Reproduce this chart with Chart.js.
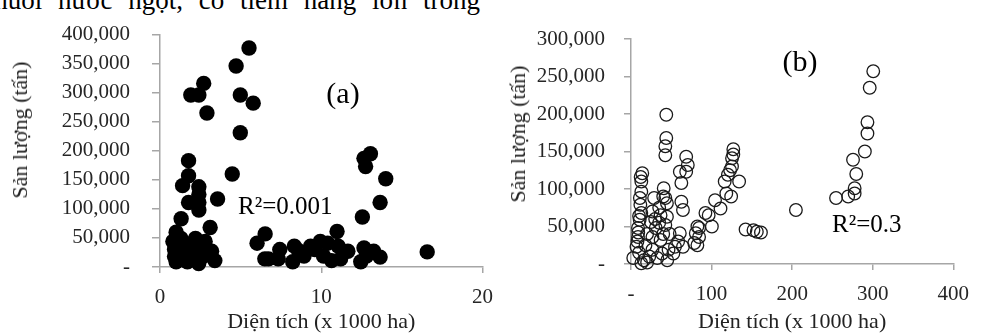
<!DOCTYPE html>
<html>
<head>
<meta charset="utf-8">
<script src="https://cdn.jsdelivr.net/npm/chart.js@4.4.1/dist/chart.umd.min.js"></script>
<style>
  body { margin: 0; background: #fff; }
  #page { position: relative; width: 981px; height: 333px; overflow: hidden; background: #fff;
          font-family: "Liberation Serif", "Times New Roman", serif; color: #000; }
  .box { position: absolute; top: 0; height: 333px; }
  .note { position: absolute; white-space: nowrap; line-height: 1; }
  .ytitle { position: absolute; white-space: nowrap; font-size: 22px; line-height: 1; color: #222;
            transform: translate(-50%, -50%) rotate(-90deg); }
</style>
</head>
<body>
<div id="page">
  <div class="note" style="right:501px; top:-13px; font-size:27px; word-spacing:9px;">nuôi nước ngọt, có tiềm năng lớn trong</div>

  <div class="box" style="left:0; width:505px;"><canvas id="chartA"></canvas></div>
  <div class="box" style="left:495px; width:486px;"><canvas id="chartB"></canvas></div>

  <div class="ytitle" style="left:20px; top:130px;">Sản lượng (tấn)</div>
  <div class="ytitle" style="left:518px; top:134px;">Sản lượng (tấn)</div>

  <div class="note" style="left:343px; top:93px; font-size:30px; transform:translate(-50%,-50%);">(a)</div>
  <div class="note" style="left:238px; top:205px; font-size:25px; transform:translateY(-50%);">R²=0.001</div>
  <div class="note" style="left:800px; top:61px; font-size:30px; transform:translate(-50%,-50%);">(b)</div>
  <div class="note" style="left:832px; top:223px; font-size:25px; transform:translateY(-50%);">R²=0.3</div>
</div>

<script>
// (a) diện tích (x 1000 ha) và sản lượng (tấn)
const areaA = [5.52, 4.72, 2.71, 1.91, 2.41, 4.98, 5.78, 2.91, 4.98,
  1.77, 4.48, 1.77, 1.4, 2.41, 2.41, 1.77, 2.41, 3.57, 2.41, 1.31, 3.11, 1.0,
  0.8, 1.3, 2.2, 0.9, 1.6, 2.5, 3.2, 1.0, 1.7, 2.4, 3.4, 2.1, 2.7, 0.9, 1.3, 1.9, 1.2, 2.8,
  6.52, 6.02, 6.5, 6.73, 7.43, 7.33, 8.33, 8.23, 8.93, 9.34, 9.94, 10.14, 10.64, 11.05,
  11.65, 12.45, 12.65, 13.25, 13.65, 10.4, 12.8, 11.2, 9.6, 8.6,
  13.05, 12.65, 12.75, 14.0, 13.65, 12.55, 10.98, 16.57];
const prodA = [377000, 346000, 316000, 296000, 296000, 296000, 282000, 265000, 231000,
  183000, 160000, 157000, 140000, 138000, 125000, 111000, 111000, 117000, 98000, 83000, 68000, 60000,
  44000, 49000, 49000, 30000, 33000, 36000, 27000, 9000, 9000, 6000, 11000, 19000, 19000, 18000, 22000, 40000, 38000, 44000,
  57000, 41000, 14000, 14000, 30000, 14000, 36000, 9000, 19000, 36000, 44000, 19000, 11000, 36000,
  27000, 9000, 33000, 27000, 17000, 41000, 19000, 14000, 30000, 28000,
  195000, 187000, 173000, 152000, 111000, 86000, 61000, 26000];

// (b)
const areaB = [300.7, 296.3, 293.5, 293.5, 290.3, 275.6, 279.6, 277.6, 277.6, 269.6, 254.5, 204.7,
  142.2, 152, 156.2, 161.3,
  127, 125.4, 125.4, 120.3, 134.2, 116.3, 124.3, 118.3, 111.1, 104.3, 96.4, 100.4, 84.5, 84.5, 82.4, 127, 123,
  43.8, 43.8, 42.6, 42.6, 68.5, 70.5, 68.5, 62.5, 62.5, 64.5, 14, 12.8, 12.8, 11.6, 12.8, 10.8, 8.7, 8.7,
  6.8, 2.8, 12.8, 40.6, 28.7, 42.6, 44.6, 26.6, 36.7, 44.6, 42.6, 24.7, 30.7, 26.6, 36.7, 26.6, 38.6,
  32.6, 22.7, 46.6, 54.6, 60.6, 58.5, 52.6, 64.5, 78.5, 80.4, 82.4, 92.4, 60.6, 12, 11, 10, 9, 8, 10,
  16, 20, 45, 40, 35, 30, 20, 18, 48, 40, 35];
const prodB = [257000, 235000, 189000, 174000, 150000, 139000, 120000, 101000, 94000, 90000, 88000, 72000,
  46000, 45000, 43000, 42000,
  153000, 141000, 130000, 119000, 110000, 110000, 90000, 94000, 74000, 85000, 65000, 50000, 48000, 36000, 25000, 146000, 125000,
  199000, 168000, 157000, 145000, 143000, 132000, 123000, 108000, 83000, 72000, 121000, 110000, 96500, 79000, 68000, 59000, 48000, 36000,
  23000, 8000, 1000, 101000, 88000, 88000, 81000, 70000, 65000, 63000, 52000, 56000, 48000, 36000, 32000, 19000, 14000,
  8000, 10000, 19000, 23000, 41000, 30000, 14000, 23000, 28000, 41000, 50000, 68000, 123000, 116000, 88000, 64000, 42000, 30000, 15000,
  5000, 2000, 5000, 90000, 75000, 60000, 40000, 25000, 40000, 40000, 55000];

const xTicksA = [0, 10, 20];
const xTicksB = [0, 100, 200, 300, 400];

function pairs(xs, ys) {
  return xs.map((x, i) => ({ x: x, y: ys[i] }));
}

const axisGray = '#a6a6a6';
const tickFont = { family: 'Liberation Serif', size: 21 };
const titleFont = { family: 'Liberation Serif', size: 22, lineHeight: 1 };

function yFmt(v) {
  return v === 0 ? '-' : v.toLocaleString('en-US');
}

function makeChart(id, pts, opt) {
  new Chart(document.getElementById(id), {
    type: 'scatter',
    data: {
      datasets: [{
        data: pts,
        pointRadius: opt.radius,
        pointHoverRadius: opt.radius,
        pointBackgroundColor: opt.fill,
        pointBorderColor: opt.stroke,
        pointBorderWidth: opt.lw,
        clip: false
      }]
    },
    options: {
      responsive: true,
      maintainAspectRatio: false,
      animation: false,
      events: [],
      layout: { padding: { left: 0, top: opt.top, right: opt.right, bottom: 0 } },
      plugins: { legend: { display: false }, tooltip: { enabled: false } },
      scales: {
        x: {
          type: 'linear', min: 0, max: opt.xmax,
          afterBuildTicks: s => { s.ticks = opt.xticks.map(v => ({ value: v })); },
          afterFit: s => { s.height = opt.xh; },
          border: { display: true, color: axisGray, width: 1.5 },
          grid: { display: true, drawOnChartArea: false, drawTicks: true, tickLength: 6, color: axisGray, lineWidth: 1.5 },
          ticks: { font: tickFont, color: '#262626', padding: 12, maxRotation: 0, callback: opt.xfmt },
          title: { display: true, text: 'Diện tích (x 1000 ha)', font: titleFont, color: '#222', padding: { top: 0, bottom: 0 } }
        },
        y: {
          type: 'linear', min: 0, max: opt.ymax,
          ticks: { stepSize: 50000, font: tickFont, color: '#262626', padding: opt.ypad, callback: yFmt },
          afterFit: s => { s.width = opt.yw; },
          border: { display: true, color: axisGray, width: 1.5 },
          grid: { display: true, drawOnChartArea: false, drawTicks: true, tickLength: opt.ytl, color: axisGray, lineWidth: 1.5 }
        }
      }
    }
  });
}

makeChart('chartA', pairs(areaA, prodA), {
  radius: 7.7, fill: '#000', stroke: '#000', lw: 0,
  top: 20, right: 13, xmax: 20, ymax: 400000, xticks: xTicksA, xh: 66, yw: 160, ypad: 22, ytl: 8,
  xfmt: v => String(v)
});

makeChart('chartB', pairs(areaB, prodB), {
  radius: 6.3, fill: 'rgba(255,255,255,0)', stroke: '#1a1a1a', lw: 1.3,
  top: 39, right: 16, xmax: 400, ymax: 300000, xticks: xTicksB, xh: 69, yw: 136, ypad: 19, ytl: 7,
  xfmt: v => v === 0 ? '-' : String(v)
});
</script>
</body>
</html>
